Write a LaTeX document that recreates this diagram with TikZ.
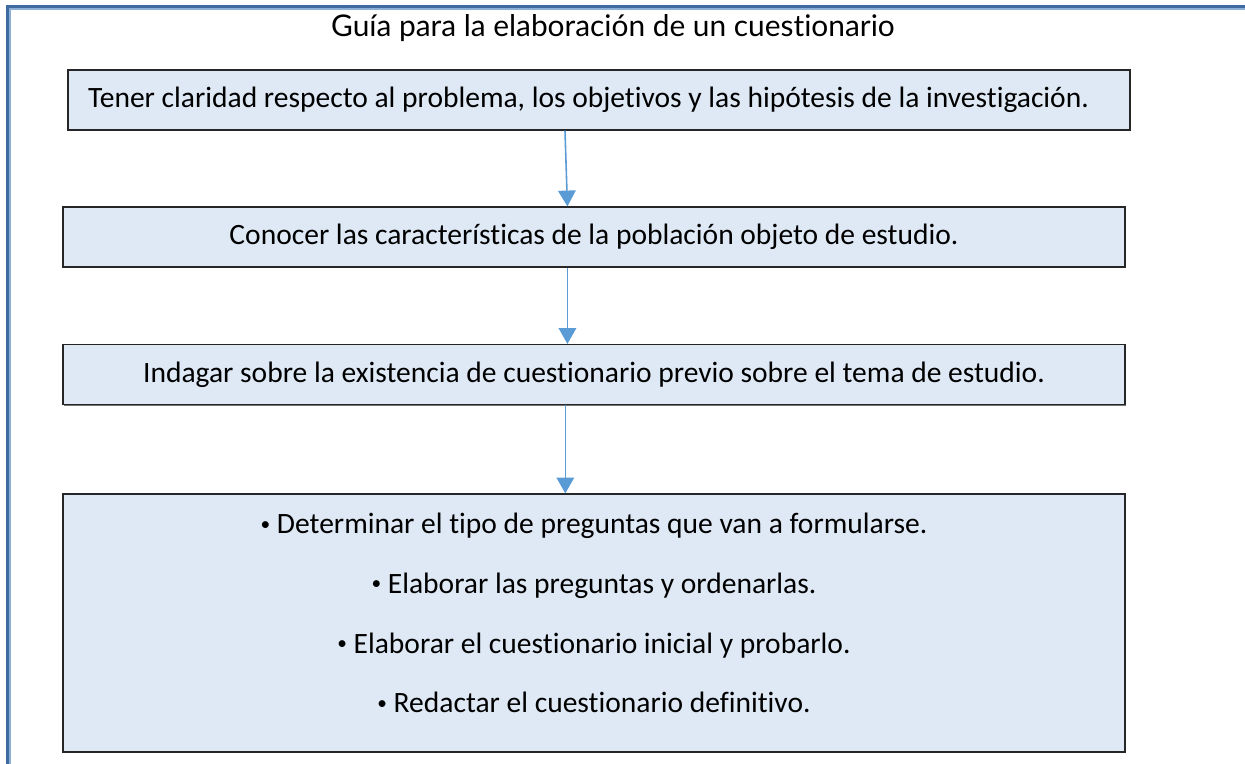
\documentclass[tikz,border=0pt]{standalone}
\usepackage{fontspec}
\setmainfont{Carlito}[Ligatures=NoCommon]
\newfontfamily\titlefont{Lato}[Ligatures=NoCommon]
\usetikzlibrary{arrows.meta,calc,shadows}
\definecolor{boxfill}{RGB}{222,233,245}
\definecolor{arrowblue}{RGB}{91,155,213}
\definecolor{framedark}{RGB}{62,106,160}
\definecolor{framelight}{RGB}{140,175,215}
\newcommand{\punto}{\raisebox{0.12em}{\fontsize{11}{11}\selectfont•}}

\begin{document}
\begin{tikzpicture}[x=0.02cm, y=-0.02cm,
    paso/.style={draw=black!85, fill=boxfill, line width=0.7pt, inner sep=0pt,
      minimum width=21.24cm, minimum height=1.2cm, align=center,
      font=\fontsize{16.8}{34}\selectfont,
      drop shadow={shadow xshift=0.7pt, shadow yshift=-0.7pt, fill=black!55, opacity=1}},
    flecha/.style={draw=arrowblue, line width=0.9pt, -{Triangle[width=10pt,length=9pt]}}]

    \useasboundingbox (0,0) rectangle (1245,764);

    % marco
    \draw [framedark, line width=1.3pt] (7.5,764) -- (7.5,6.5) -- (1245,6.5);
    \draw [framelight, line width=0.6pt] (10,764) -- (10,9) -- (1245,9);

    \node (t) at (613,28) {\titlefont\fontsize{17}{20}\selectfont Guía para la elaboración de un cuestionario};

    \node [paso] (a) at (599,100) {Tener claridad respecto al problema, los objetivos y las hipótesis de la investigación.\hspace*{0.42cm}};
    \node [paso] (b) at (594,237) {Conocer las características de la población objeto de estudio.};
    \node [paso] (c) at (594,374.5) {Indagar sobre la existencia de cuestionario previo sobre el tema de estudio.};
    \node [paso, minimum height=5.16cm] (d) at (594,623) {%
      \punto{} Determinar el tipo de preguntas que van a formularse.\\
      \punto{} Elaborar las preguntas y ordenarlas.\\
      \punto{} Elaborar el cuestionario inicial y probarlo.\\
      \punto{} Redactar el cuestionario definitivo.\\[-0.8cm]\mbox{}};

    \draw [flecha] ($(a.south west)!.468!(a.south east)$) to ($(b.north west)!.475!(b.north east)$);
    \draw [flecha] ($(b.south west)!.475!(b.south east)$) to ($(c.north west)!.475!(c.north east)$);
    \draw [flecha] ($(c.south west)!.473!(c.south east)$) to ($(d.north west)!.473!(d.north east)$);

\end{tikzpicture}
\end{document}
